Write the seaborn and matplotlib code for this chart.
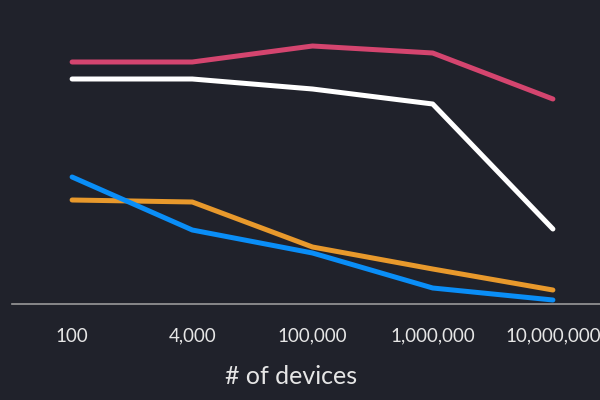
import matplotlib
matplotlib.use("Agg")
import matplotlib.pyplot as plt
import seaborn as sns
import pandas as pd

devices = ["100", "4,000", "100,000", "1,000,000", "10,000,000"]
pink = [242, 242, 258, 251, 205]
white = [225, 225, 215, 200, 75]
blue = [127, 74, 51, 16, 4]
orange = [104, 102, 57, 35, 14]

series = {"pink": pink, "white": white, "blue": blue, "orange": orange}
colors = {"pink": "#d4456f", "white": "#ffffff", "blue": "#0a8ef7", "orange": "#e8992c"}

rows = []
for name, vals in series.items():
    for i, (d, v) in enumerate(zip(devices, vals)):
        rows.append({"devices": d, "idx": i, "value": v, "series": name})
df = pd.DataFrame(rows)

bg = "#20222b"
sns.set_theme(style="dark")
plt.rcParams["font.family"] = ["Lato", "DejaVu Sans"]

fig = plt.figure(figsize=(6, 4), dpi=100, facecolor=bg)
ax = fig.add_axes([12 / 600, 96 / 400, 601 / 600, 304 / 400])
ax.set_facecolor(bg)

sns.lineplot(data=df, x="idx", y="value", hue="series", palette=colors,
             hue_order=["orange", "blue", "white", "pink"],
             linewidth=3.6, legend=False, ax=ax, solid_capstyle="round")

ax.set_xlim(-0.5, 4.5)
ax.set_ylim(0, 304)
ax.set_xticks(range(len(devices)))
ax.set_xticklabels(devices, color="#e6e6e6", fontsize=13.5)
ax.set_yticks([])
ax.tick_params(axis="x", length=0, pad=17)
ax.set_xlabel("# of devices", color="#e6e6e6", fontsize=18)
ax.set_ylabel("")
ax.xaxis.set_label_coords((291 - 12) / 601, -(376 - 304) / 304)
ax.xaxis.label.set_verticalalignment("center")
for s in ["top", "right", "left"]:
    ax.spines[s].set_visible(False)
ax.spines["bottom"].set_color("#9a9a9a")
ax.spines["bottom"].set_linewidth(1.2)
ax.grid(False)

fig.savefig("out.png", dpi=100, facecolor=bg)
